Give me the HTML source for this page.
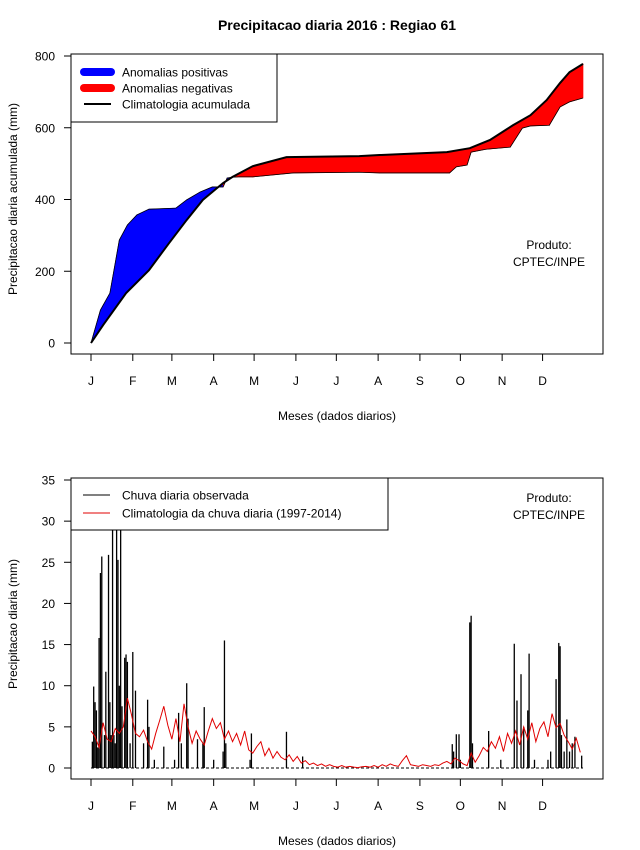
<!DOCTYPE html>
<html><head><meta charset="utf-8"><style>
html,body{margin:0;padding:0;background:#fff;}
svg{display:block;font-family:"Liberation Sans",Arial,sans-serif;}
</style></head><body>
<svg id="chart" width="640" height="850" viewBox="0 0 640 850" xmlns="http://www.w3.org/2000/svg">
<rect width="640" height="850" fill="#fff"/>
<text x="337" y="30" text-anchor="middle" font-size="14" font-weight="bold">Precipitacao diaria 2016 : Regiao 61</text>
<g id="topPanel"></g>
<g id="botPanel"></g>
</svg>
<script>
// ---- data: top panel (cumulative, mm) ----
const climDays = [1,10,27,44,59,72,84,99,106,121,146,200,215,265,282,297,314,327,339,349,356,366];
const climCum  = [0,50,139,203,279,343,399,446,463,493,518,521,524,532,543,566,607,635,677,725,755,778];
const obsDays  = [1,8,15,22,28,35,44,64,72,82,91,99,102,106,111,121,151,200,215,267,272,280,283,294,312,321,327,341,349,356,366];
const obsCum   = [0,92,139,287,329,357,373,376,399,421,435,435,460,462,463,463,474,476,474,474,491,496,532,540,546,599,605,607,658,672,683];
// ---- data: bottom panel ----
const rainDays = [2,3,4,5,6,7,8,9,11,12,14,15,16,17,18,19,20,21,22,23,24,26,27,28,30,32,34,40,43,44,48,55,63,66,68,72,73,80,84,85,92,99,100,101,119,120,146,158,269,270,272,274,275,282,283,284,296,305,315,317,320,322,325,326,330,340,342,346,348,349,350,352,354,356,358,360,365];
const rainVals = [3.2,9.9,8,7,2.5,15.8,23.7,25.7,4,11.7,25.9,8,4,33,4,3,31,25.3,10,33,7.5,13.4,13.8,12.9,3,14.1,9.4,3,8.3,5,1,2.6,1,6.7,3,10.3,6,3.5,3,7.4,1,2,15.5,3,1,4.2,4.4,1.4,2.9,2,4.1,4.1,1,17.7,18.5,3,4.5,1,15.1,8.2,11.4,5,7,13.9,1,1,2,10.8,15.2,14.8,4,2,5.9,2,3,3.8,1.5];
const climDailyVals = [4.5,3.8,2.5,5.5,3.5,3.2,4.8,4.2,5,8.5,
 6.5,4.2,3.8,4.6,3.2,2.3,4.2,5.8,7.5,5.2,
 3.5,6.0,3.2,7.8,5.0,3.0,4.5,3.5,2.8,4.5,
 6,4.8,5.5,3.5,4.5,3.2,4.2,2.8,4.5,2.2,
 1.8,2.6,3.2,1.5,2.4,1.2,2.0,1.3,1.0,1.6,
 0.8,1.4,0.6,0.9,0.4,0.6,0.3,0.5,0.2,0.4,
 0.2,0.1,0.3,0.1,0.2,0.1,0.05,0.15,0.2,0.1,
 0.3,0.1,0.4,0.2,0.5,0.3,0.2,0.9,1.5,0.4,
 0.3,0.2,0.4,0.3,0.2,0.4,0.3,0.6,0.8,0.5,
 1.2,0.9,0.5,0.3,1.8,0.7,1.5,2.5,2.0,3.2,
 2.4,3.8,2.0,4.2,3.0,4.5,2.8,5.0,3.5,5.5,
 3.2,4.8,5.6,3.8,6.6,4.9,5.4,4.0,3.2,2.3,3.6,1.9];
const monthLabels = ["J","F","M","A","M","J","J","A","S","O","N","D"];
const monthStarts = [1,32,61,92,122,153,183,214,245,275,306,336];
const topTicks = [0,200,400,600,800];
const botTicks = [0,5,10,15,20,25,30,35];

const NS="http://www.w3.org/2000/svg";
function mk(parent,tag,attrs,text){const e=document.createElementNS(NS,tag);for(const k in attrs)e.setAttribute(k,attrs[k]);if(text!==undefined)e.textContent=text;parent.appendChild(e);return e;}
const xDay = d => 91 + (d-1)*1.348;
const yTop = v => 343 - v*287/800;
const yBot = v => 768 - v*288/35;

const topG = document.getElementById('topPanel');
const botG = document.getElementById('botPanel');

function axes(g, y0, y1, yFn, ticks, xAxisY, ylabel, ylabelY, credY){
  let b=mk(g,'rect',{x:71,y:y0,width:532,height:y1-y0,fill:'none',stroke:'#000','stroke-width':1});
  
  
  ticks.forEach(t=>{
    const y=yFn(t);
    let l=mk(g,'line',{x1:64,x2:71,y1:y,y2:y,stroke:'#000'});
    
    
    let tx=mk(g,'text',{x:55,y:y+4.5,'text-anchor':'end','font-size':12},String(t));
    
    
  });
  monthStarts.forEach((d,i)=>{
    const x=xDay(d);
    let l=mk(g,'line',{x1:x,x2:x,y1:xAxisY,y2:xAxisY+7,stroke:'#000'});
    
    
    let tx=mk(g,'text',{x:x,y:xAxisY+31,'text-anchor':'middle','font-size':12},monthLabels[i]);
    
    
  });
  let xl=mk(g,'text',{x:337,y:xAxisY+66,'text-anchor':'middle','font-size':12},'Meses (dados diarios)');
  
  
  let yl=mk(g,'text',{x:0,y:0,'text-anchor':'middle','font-size':12,transform:`translate(17,${ylabelY}) rotate(-90)`},ylabel);
  
  
  let p1=mk(g,'text',{x:549,y:credY,'text-anchor':'middle','font-size':12},'Produto:');
  
  
  let p2=mk(g,'text',{x:549,y:credY+17,'text-anchor':'middle','font-size':12},'CPTEC/INPE');
  
  
}

function interp(ds,vs,d){for(let i=0;i<ds.length-1;i++){if(d<=ds[i+1]){const t=(d-ds[i])/(ds[i+1]-ds[i]);return vs[i]+t*(vs[i+1]-vs[i]);}}return vs[vs.length-1];}
const allDays=[...new Set([...climDays,...obsDays])].sort((a,b)=>a-b);
for(let i=0;i<allDays.length-1;i++){
  const a=allDays[i],b=allDays[i+1];
  const oa=interp(obsDays,obsCum,a),ob=interp(obsDays,obsCum,b),ca=interp(climDays,climCum,a),cb=interp(climDays,climCum,b);
  const pos=(oa+ob)>(ca+cb);
  let q=mk(topG,'polygon',{points:`${xDay(a)},${yTop(oa)} ${xDay(b)},${yTop(ob)} ${xDay(b)},${yTop(cb)} ${xDay(a)},${yTop(ca)}`,fill:pos?'#0000ff':'#ff0000',stroke:pos?'#0000ff':'#ff0000','stroke-width':0.6});
  
  
}
let obsLine=mk(topG,'polyline',{points:obsDays.map((d,i)=>`${xDay(d)},${yTop(obsCum[i])}`).join(' '),fill:'none',stroke:'#000','stroke-width':0.8});


let climLine=mk(topG,'polyline',{points:climDays.map((d,i)=>`${xDay(d)},${yTop(climCum[i])}`).join(' '),fill:'none',stroke:'#000','stroke-width':2});


axes(topG,54,354,yTop,topTicks,354,'Precipitacao diaria acumulada (mm)',199,249);
let lg=mk(topG,'g',{});


mk(lg,'rect',{x:71,y:54,width:206,height:68,fill:'#fff',stroke:'#000'});
[['#0000ff',8,'Anomalias positivas'],['#ff0000',8,'Anomalias negativas'],['#000',2,'Climatologia acumulada']].forEach((e,i)=>{
  const y=72+i*16;
  let l=mk(lg,'line',{x1:84,x2:111,y1:y,y2:y,stroke:e[0],'stroke-width':e[1],'stroke-linecap':e[1]>2?'round':'butt'});
  
  
  let t=mk(lg,'text',{x:122,y:y+4.5,'font-size':12},e[2]);
  
  
});

let base=mk(botG,'line',{x1:xDay(1),x2:xDay(366),y1:yBot(0),y2:yBot(0),stroke:'#000','stroke-dasharray':'3,2'});


rainDays.forEach((d,i)=>{
  let l=mk(botG,'line',{x1:xDay(d),x2:xDay(d),y1:yBot(0),y2:Math.max(480,yBot(rainVals[i])),stroke:'#000','stroke-width':1.3});
  
  
});
let cl=mk(botG,'polyline',{points:climDailyVals.map((v,i)=>`${xDay(1+3*i)},${yBot(v)}`).join(' '),fill:'none',stroke:'#e00000','stroke-width':1});


axes(botG,478,779,yBot,botTicks,779,'Precipitacao diaria (mm)',624,502);
let lg2=mk(botG,'g',{});


mk(lg2,'rect',{x:71,y:478,width:317,height:52,fill:'#fff',stroke:'#000'});
[['#000','Chuva diaria observada'],['#e00000','Climatologia da chuva diaria (1997-2014)']].forEach((e,i)=>{
  const y=495+i*18;
  let l=mk(lg2,'line',{x1:83,x2:110,y1:y,y2:y,stroke:e[0],'stroke-width':1});
  
  
  let t=mk(lg2,'text',{x:122,y:y+4.5,'font-size':12},e[1]);
  
  
});
</script>
</body></html>
